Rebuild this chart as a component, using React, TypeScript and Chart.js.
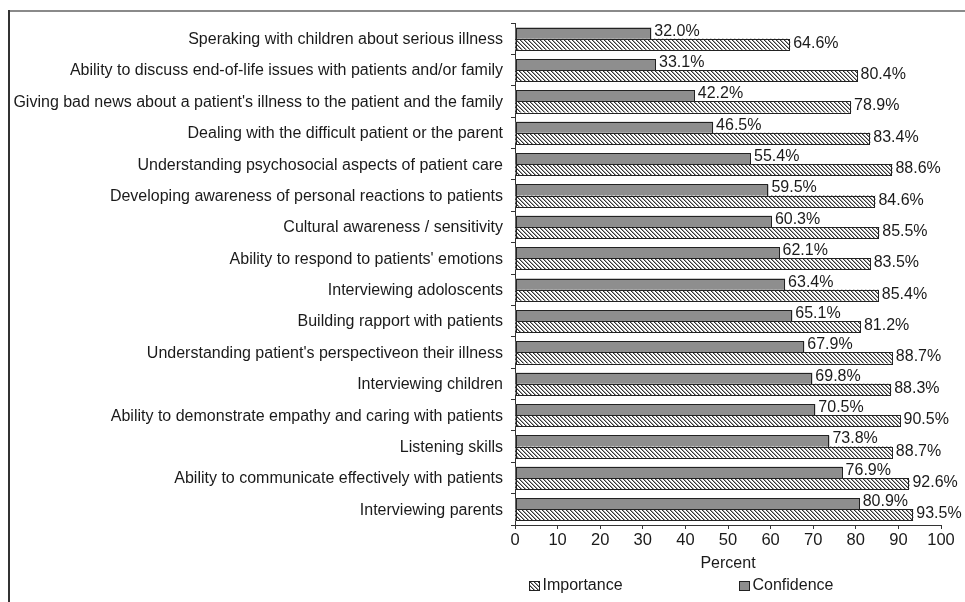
import React, { useEffect, useRef } from 'react';
import { Chart, registerables } from 'chart.js';

Chart.register(...registerables);

const categories = [
  'Speraking with children about serious illness',
  'Ability to discuss end-of-life issues with patients and/or family',
  "Giving bad news about a patient's illness to the patient and the family",
  'Dealing with the difficult patient or the parent',
  'Understanding psychosocial aspects of patient care',
  'Developing awareness of personal reactions to patients',
  'Cultural awareness / sensitivity',
  "Ability to respond to patients' emotions",
  'Interviewing adoloscents',
  'Building rapport with patients',
  "Understanding patient's perspectiveon their illness",
  'Interviewing children',
  'Ability to demonstrate empathy and caring with patients',
  'Listening skills',
  'Ability to communicate effectively with patients',
  'Interviewing parents',
];

const confidence = [32.0, 33.1, 42.2, 46.5, 55.4, 59.5, 60.3, 62.1, 63.4, 65.1, 67.9, 69.8, 70.5, 73.8, 76.9, 80.9];
const importance = [64.6, 80.4, 78.9, 83.4, 88.6, 84.6, 85.5, 83.5, 85.4, 81.2, 88.7, 88.3, 90.5, 88.7, 92.6, 93.5];

const seriesNames = ['Confidence', 'Importance'];
const legendOrder = ['Importance', 'Confidence'];
const axisTitle = 'Percent';

const FONT = '"Liberation Sans", Arial, Helvetica, sans-serif';
const TEXT = '#1a1a1a';
const GRAY = '#8e8e8e';
const EDGE = '#222';

function makeHatch(ctx: CanvasRenderingContext2D): CanvasPattern | string {
  const c = document.createElement('canvas');
  c.width = 4;
  c.height = 4;
  const g = c.getContext('2d');
  if (!g) return '#ccc';
  g.fillStyle = '#fff';
  g.fillRect(0, 0, 4, 4);
  for (let i = 0; i < 4; i++) {
    g.fillStyle = '#333';
    g.fillRect(i, i, 1, 1);
    g.fillStyle = '#a0a0a0';
    g.fillRect((i + 1) % 4, i, 1, 1);
  }
  return ctx.createPattern(c, 'repeat') || '#ccc';
}

export default function App() {
  const ref = useRef<HTMLCanvasElement | null>(null);

  useEffect(() => {
    const canvas = ref.current;
    if (!canvas) return;
    const ctx = canvas.getContext('2d');
    if (!ctx) return;
    const hatch = makeHatch(ctx);

    const decor = {
      id: 'decor',
      afterDatasetsDraw(chart: any) {
        const c = chart.ctx;
        c.save();
        // crisp bar outlines from the library's bar geometry
        c.strokeStyle = EDGE;
        c.lineWidth = 1;
        chart.data.datasets.forEach((ds: any, di: number) => {
          const meta = chart.getDatasetMeta(di);
          meta.data.forEach((el: any) => {
            const p = el.getProps(['x', 'y', 'base', 'height'], true);
            const l = Math.round(Math.min(p.base, p.x));
            const r = Math.round(Math.max(p.base, p.x));
            const t = Math.round(p.y - p.height / 2);
            const b = Math.round(p.y + p.height / 2);
            c.strokeRect(l + 0.5, t + 0.5, r - l - 1, b - t);
          });
        });
        // value labels
        c.font = `16px ${FONT}`;
        c.fillStyle = TEXT;
        c.textBaseline = 'middle';
        c.textAlign = 'left';
        chart.data.datasets.forEach((ds: any, di: number) => {
          const meta = chart.getDatasetMeta(di);
          meta.data.forEach((el: any, i: number) => {
            const v = ds.data[i] as number;
            c.fillText(v.toFixed(1) + '%', el.x + 3, el.y + (di === 0 ? -2 : -1));
          });
        });
        // category labels
        const ys = chart.scales.y;
        c.textAlign = 'right';
        chart.data.labels.forEach((lab: string, i: number) => {
          const y = ys.getPixelForTick(i);
          c.fillText(lab, ys.right - 12, y + 1);
        });
        c.restore();
      },
      afterDraw(chart: any) {
        const c = chart.ctx;
        c.save();
        // frame
        c.strokeStyle = '#8a8a8a';
        c.lineWidth = 2;
        c.beginPath();
        c.moveTo(8, 11);
        c.lineTo(965, 11);
        c.stroke();
        c.strokeStyle = '#333';
        c.beginPath();
        c.moveTo(9, 10);
        c.lineTo(9, 602);
        c.stroke();
        // legend
        c.font = `16px ${FONT}`;
        c.textBaseline = 'alphabetic';
        c.textAlign = 'left';
        const items = [
          { name: legendOrder[0], fill: hatch, x: 529 },
          { name: legendOrder[1], fill: GRAY, x: 739 },
        ];
        items.forEach((it) => {
          c.fillStyle = it.fill as any;
          c.fillRect(it.x, 581.5, 11, 9);
          c.strokeStyle = EDGE;
          c.lineWidth = 1;
          c.strokeRect(it.x + 0.5, 581.5, 10, 9);
          c.fillStyle = TEXT;
          c.fillText(it.name, it.x + 13.5, 589.5);
        });
        c.restore();
      },
    };

    const chart = new Chart(ctx, {
      type: 'bar',
      data: {
        labels: categories,
        datasets: [
          {
            label: seriesNames[0],
            data: confidence,
            backgroundColor: GRAY,
            borderWidth: 0,
            categoryPercentage: 0.71,
            barPercentage: 1,
          },
          {
            label: seriesNames[1],
            data: importance,
            backgroundColor: hatch as any,
            borderWidth: 0,
            categoryPercentage: 0.71,
            barPercentage: 1,
          },
        ],
      },
      options: {
        indexAxis: 'y',
        responsive: false,
        animation: false,
        devicePixelRatio: 1,
        layout: { padding: { top: 23, right: 24, bottom: 29, left: 0 } },
        plugins: {
          legend: { display: false },
          tooltip: { enabled: false },
        },
        scales: {
          y: {
            type: 'category',
            afterFit: (scale: any) => {
              scale.width = 515;
            },
            grid: { drawOnChartArea: false, tickLength: 4, color: '#333', offset: true },
            border: { display: true, color: '#333', width: 1 },
            ticks: {
              display: false,
              autoSkip: false,
            },
          },
          x: {
            type: 'linear',
            min: 0,
            max: 100,
            afterFit: (scale: any) => {
              scale.height = 48;
            },
            grid: { drawOnChartArea: false, tickLength: 4, color: '#333' },
            border: { display: true, color: '#333', width: 1 },
            ticks: {
              stepSize: 10,
              color: TEXT,
              font: { family: FONT, size: 16.5 },
              padding: 2,
            },
            title: {
              display: true,
              text: axisTitle,
              color: TEXT,
              font: { family: FONT, size: 16 },
              padding: { top: 0, bottom: 0 },
            },
          },
        },
      },
      plugins: [decor],
    });

    return () => chart.destroy();
  }, []);

  return (
    <div style={{ position: 'absolute', left: 0, top: 0, width: 965, height: 602, background: '#fff' }}>
      <canvas ref={ref} width={965} height={602} style={{ display: 'block', width: 965, height: 602 }} />
    </div>
  );
}
